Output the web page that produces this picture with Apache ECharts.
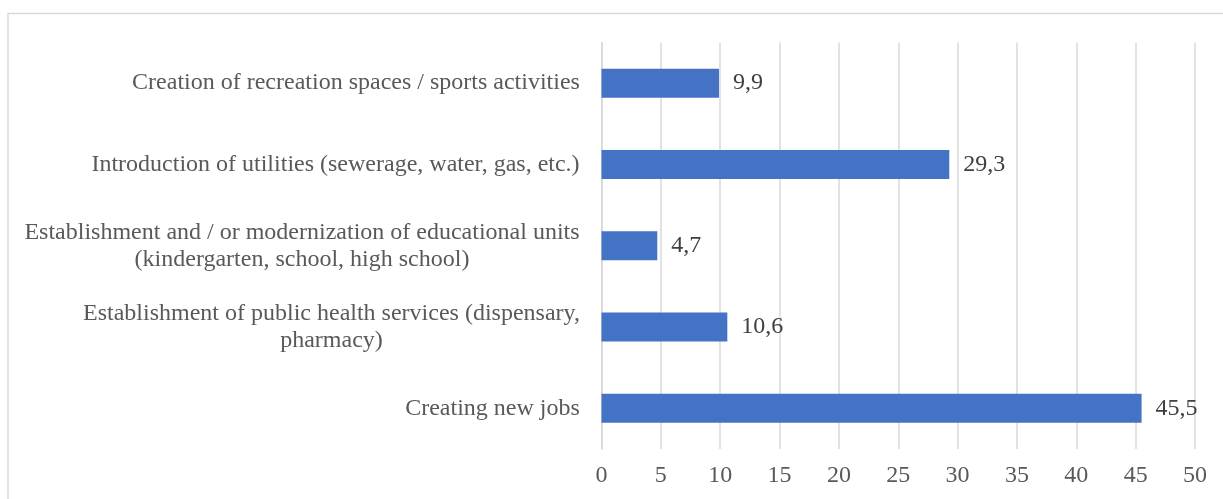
<!DOCTYPE html>
<html>
<head>
<meta charset="utf-8">
<script src="https://cdn.jsdelivr.net/npm/echarts@6/dist/echarts.min.js"></script>
<style>
html,body{margin:0;padding:0;background:#fff;}
#c{width:1223px;height:499px;}
</style>
</head>
<body>
<div id="c"></div>
<script>
// Data (top to bottom)
var categories = [
  'Creation of recreation spaces / sports activities',
  'Introduction of utilities (sewerage, water, gas, etc.)',
  'Establishment and / or modernization of educational units\n(kindergarten, school, high school)',
  'Establishment of public health services (dispensary,\npharmacy)',
  'Creating new jobs'
];
var values = [9.9, 29.3, 4.7, 10.6, 45.5];
var xTicks = [0, 5, 10, 15, 20, 25, 30, 35, 40, 45, 50];

var FONT = '"Liberation Serif", "Times New Roman", serif';
var FS = 24;

// measure label lines so multi-line labels are centered within their block
var cv = document.createElement('canvas').getContext('2d');
cv.font = FS + 'px ' + FONT;
var rich = {};
categories.forEach(function (c, i) {
  var w = 0;
  c.split('\n').forEach(function (l) { w = Math.max(w, cv.measureText(l).width); });
  rich['r' + i] = {width: Math.ceil(w) + 1, align: 'center', fontSize: FS, fontFamily: FONT, color: '#595959', lineHeight: 27};
});

var chart = echarts.init(document.getElementById('c'), null, {renderer: 'canvas'});
chart.setOption({
  animation: false,
  backgroundColor: '#fff',
  graphic: [{
    type: 'rect',
    shape: {x: 8, y: 13.5, width: 1240, height: 520},
    style: {fill: 'none', stroke: '#d9d9d9', lineWidth: 1.5},
    silent: true
  }],
  grid: {left: 601.5, right: 28, top: 42.5, bottom: 50, containLabel: false},
  xAxis: {
    type: 'value',
    min: xTicks[0],
    max: xTicks[xTicks.length - 1],
    interval: 5,
    axisLine: {show: false},
    axisTick: {show: false},
    splitLine: {show: true, lineStyle: {color: '#d9d9d9', width: 1.5}},
    axisLabel: {color: '#595959', fontSize: FS, fontFamily: FONT, margin: 15}
  },
  yAxis: {
    type: 'category',
    inverse: true,
    data: categories,
    axisLine: {show: true, lineStyle: {color: '#d9d9d9', width: 1.5}},
    axisTick: {show: false},
    axisLabel: {
      margin: 21,
      lineHeight: 27,
      formatter: function (v, i) {
        return v.split('\n').map(function (l) { return '{r' + i + '|' + l + '}'; }).join('\n');
      },
      rich: rich
    }
  },
  series: [{
    type: 'bar',
    data: values,
    barWidth: 29,
    itemStyle: {color: '#4472C4'},
    label: {
      show: true,
      position: 'right',
      distance: 14,
      color: '#404040',
      fontSize: FS,
      fontFamily: FONT,
      formatter: function (p) { return String(p.value).replace('.', ','); }
    }
  }]
});
</script>
</body>
</html>
